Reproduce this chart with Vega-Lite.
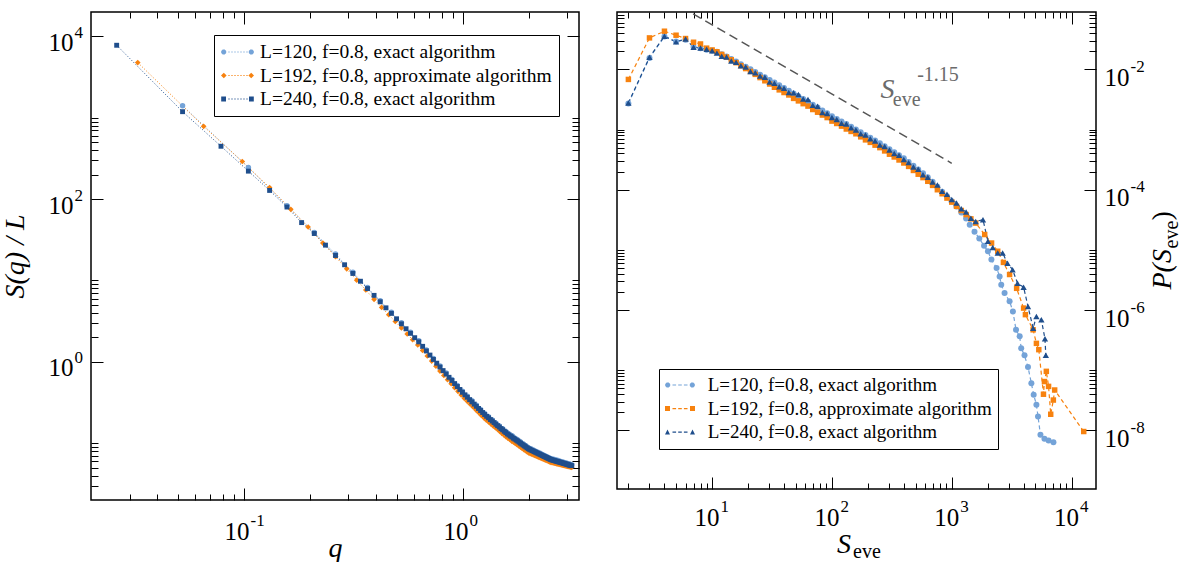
{
  "$schema": "https://vega.github.io/schema/vega-lite/v6.json",
  "background": "white",
  "padding": {"left": 0, "top": 10, "right": 0, "bottom": 0},
  "spacing": 34,
  "resolve": {"scale": {"fill": "independent", "shape": "independent"}, "legend": {"fill": "independent", "shape": "independent"}},
  "config": {
    "view": {"stroke": "#000", "strokeWidth": 1.5},
    "axis": {"grid": false, "domain": false, "tickColor": "#000", "tickWidth": 1, "labelFont": "Liberation Serif", "labelFontSize": 25, "labelColor": "#000", "titleFont": "Liberation Serif", "titleFontSize": 28, "titleFontStyle": "italic", "titleFontWeight": "normal", "titleColor": "#000", "labelFlush": false, "labelOverlap": false},
    "legend": {"labelFont": "Liberation Serif", "labelFontSize": 19, "labelColor": "#000", "labelLimit": 400, "symbolStrokeWidth": 0, "strokeColor": "#000", "fillColor": "#fff", "symbolSize": 400}
  },
  "datasets": {
    "sq": [
      {"s":"L120","q":0.0524,"v":1409},{"s":"L120","q":0.1047,"v":245},{"s":"L120","q":0.1571,"v":83},{"s":"L120","q":0.2094,"v":39},{"s":"L120","q":0.2618,"v":21.1},{"s":"L120","q":0.3142,"v":12.6},{"s":"L120","q":0.3665,"v":8.2},{"s":"L120","q":0.4189,"v":5.63},{"s":"L120","q":0.4712,"v":4.06},{"s":"L120","q":0.5236,"v":3.02},
      {"s":"L120","q":0.576,"v":2.31},{"s":"L120","q":0.6283,"v":1.81},{"s":"L120","q":0.6807,"v":1.4},{"s":"L120","q":0.733,"v":1.1},{"s":"L120","q":0.7854,"v":0.889},{"s":"L120","q":0.8378,"v":0.729},{"s":"L120","q":0.8901,"v":0.608},{"s":"L120","q":0.9425,"v":0.512},{"s":"L120","q":0.9948,"v":0.435},{"s":"L120","q":1.0472,"v":0.378},
      {"s":"L120","q":1.0996,"v":0.332},{"s":"L120","q":1.1519,"v":0.293},{"s":"L120","q":1.2043,"v":0.26},{"s":"L120","q":1.2566,"v":0.232},{"s":"L120","q":1.309,"v":0.211},{"s":"L120","q":1.3614,"v":0.193},{"s":"L120","q":1.4137,"v":0.176},{"s":"L120","q":1.4661,"v":0.163},{"s":"L120","q":1.5184,"v":0.15},{"s":"L120","q":1.5708,"v":0.139},
      {"s":"L120","q":1.6232,"v":0.13},{"s":"L120","q":1.6755,"v":0.123},{"s":"L120","q":1.7279,"v":0.115},{"s":"L120","q":1.7802,"v":0.109},{"s":"L120","q":1.8326,"v":0.103},{"s":"L120","q":1.885,"v":0.0976},{"s":"L120","q":1.9373,"v":0.0927},{"s":"L120","q":1.9897,"v":0.0881},{"s":"L120","q":2.042,"v":0.0851},{"s":"L120","q":2.0944,"v":0.0823},
      {"s":"L120","q":2.1468,"v":0.0797},{"s":"L120","q":2.1991,"v":0.0773},{"s":"L120","q":2.2515,"v":0.075},{"s":"L120","q":2.3038,"v":0.0727},{"s":"L120","q":2.3562,"v":0.0707},{"s":"L120","q":2.4086,"v":0.0687},{"s":"L120","q":2.4609,"v":0.0667},{"s":"L120","q":2.5133,"v":0.065},{"s":"L120","q":2.5656,"v":0.0639},{"s":"L120","q":2.618,"v":0.0628},
      {"s":"L120","q":2.6704,"v":0.0619},{"s":"L120","q":2.7227,"v":0.061},{"s":"L120","q":2.7751,"v":0.06},{"s":"L120","q":2.8274,"v":0.0591},{"s":"L120","q":2.8798,"v":0.0583},{"s":"L120","q":2.9322,"v":0.0575},{"s":"L120","q":2.9845,"v":0.0567},{"s":"L120","q":3.0369,"v":0.0558},{"s":"L120","q":3.0892,"v":0.0551},{"s":"L120","q":3.1416,"v":0.0544},
      {"s":"L192","q":0.0327,"v":4780},{"s":"L192","q":0.0654,"v":785},{"s":"L192","q":0.0982,"v":290},{"s":"L192","q":0.1309,"v":139},{"s":"L192","q":0.1636,"v":75},{"s":"L192","q":0.1963,"v":45.5},{"s":"L192","q":0.2291,"v":28.8},{"s":"L192","q":0.2618,"v":19.6},{"s":"L192","q":0.2945,"v":13.9},{"s":"L192","q":0.3272,"v":10.1},
      {"s":"L192","q":0.36,"v":7.64},{"s":"L192","q":0.3927,"v":5.86},{"s":"L192","q":0.4254,"v":4.67},{"s":"L192","q":0.4581,"v":3.79},{"s":"L192","q":0.4909,"v":3.13},{"s":"L192","q":0.5236,"v":2.61},{"s":"L192","q":0.5563,"v":2.2},{"s":"L192","q":0.589,"v":1.87},{"s":"L192","q":0.6218,"v":1.61},{"s":"L192","q":0.6545,"v":1.38},
      {"s":"L192","q":0.6872,"v":1.18},{"s":"L192","q":0.7199,"v":1.02},{"s":"L192","q":0.7527,"v":0.881},{"s":"L192","q":0.7854,"v":0.769},{"s":"L192","q":0.8181,"v":0.678},{"s":"L192","q":0.8508,"v":0.603},{"s":"L192","q":0.8836,"v":0.537},{"s":"L192","q":0.9163,"v":0.481},{"s":"L192","q":0.949,"v":0.434},{"s":"L192","q":0.9817,"v":0.391},
      {"s":"L192","q":1.0145,"v":0.356},{"s":"L192","q":1.0472,"v":0.327},{"s":"L192","q":1.0799,"v":0.301},{"s":"L192","q":1.1126,"v":0.278},{"s":"L192","q":1.1454,"v":0.257},{"s":"L192","q":1.1781,"v":0.238},{"s":"L192","q":1.2108,"v":0.221},{"s":"L192","q":1.2435,"v":0.206},{"s":"L192","q":1.2763,"v":0.193},{"s":"L192","q":1.309,"v":0.182},
      {"s":"L192","q":1.3417,"v":0.172},{"s":"L192","q":1.3744,"v":0.163},{"s":"L192","q":1.4072,"v":0.155},{"s":"L192","q":1.4399,"v":0.147},{"s":"L192","q":1.4726,"v":0.139},{"s":"L192","q":1.5053,"v":0.132},{"s":"L192","q":1.5381,"v":0.126},{"s":"L192","q":1.5708,"v":0.12},{"s":"L192","q":1.6035,"v":0.115},{"s":"L192","q":1.6362,"v":0.111},
      {"s":"L192","q":1.669,"v":0.106},{"s":"L192","q":1.7017,"v":0.103},{"s":"L192","q":1.7344,"v":0.0989},{"s":"L192","q":1.7671,"v":0.0955},{"s":"L192","q":1.7999,"v":0.0923},{"s":"L192","q":1.8326,"v":0.0891},{"s":"L192","q":1.8653,"v":0.0862},{"s":"L192","q":1.898,"v":0.0834},{"s":"L192","q":1.9308,"v":0.0807},{"s":"L192","q":1.9635,"v":0.0782},
      {"s":"L192","q":1.9962,"v":0.0759},{"s":"L192","q":2.0289,"v":0.0744},{"s":"L192","q":2.0617,"v":0.073},{"s":"L192","q":2.0944,"v":0.0718},{"s":"L192","q":2.1271,"v":0.0705},{"s":"L192","q":2.1598,"v":0.0692},{"s":"L192","q":2.1926,"v":0.0681},{"s":"L192","q":2.2253,"v":0.0668},{"s":"L192","q":2.258,"v":0.0658},{"s":"L192","q":2.2907,"v":0.0647},
      {"s":"L192","q":2.3235,"v":0.0637},{"s":"L192","q":2.3562,"v":0.0627},{"s":"L192","q":2.3889,"v":0.0617},{"s":"L192","q":2.4216,"v":0.0608},{"s":"L192","q":2.4544,"v":0.0598},{"s":"L192","q":2.4871,"v":0.0589},{"s":"L192","q":2.5198,"v":0.0581},{"s":"L192","q":2.5525,"v":0.0575},{"s":"L192","q":2.5853,"v":0.0571},{"s":"L192","q":2.618,"v":0.0567},
      {"s":"L192","q":2.6507,"v":0.0562},{"s":"L192","q":2.6834,"v":0.0557},{"s":"L192","q":2.7162,"v":0.0553},{"s":"L192","q":2.7489,"v":0.0549},{"s":"L192","q":2.7816,"v":0.0545},{"s":"L192","q":2.8143,"v":0.0541},{"s":"L192","q":2.8471,"v":0.0536},{"s":"L192","q":2.8798,"v":0.0533},{"s":"L192","q":2.9125,"v":0.053},{"s":"L192","q":2.9452,"v":0.0525},
      {"s":"L192","q":2.978,"v":0.0521},{"s":"L192","q":3.0107,"v":0.0518},{"s":"L192","q":3.0434,"v":0.0514},{"s":"L192","q":3.0761,"v":0.0511},{"s":"L192","q":3.1089,"v":0.0507},{"s":"L192","q":3.1416,"v":0.0504},
      {"s":"L240","q":0.0262,"v":7800},{"s":"L240","q":0.0524,"v":1190},{"s":"L240","q":0.0785,"v":447},{"s":"L240","q":0.1047,"v":221},{"s":"L240","q":0.1309,"v":128},{"s":"L240","q":0.1571,"v":80},{"s":"L240","q":0.1833,"v":51.5},{"s":"L240","q":0.2094,"v":37.8},{"s":"L240","q":0.2356,"v":27.2},{"s":"L240","q":0.2618,"v":20.3},
      {"s":"L240","q":0.288,"v":15.6},{"s":"L240","q":0.3142,"v":12.2},{"s":"L240","q":0.3403,"v":9.79},{"s":"L240","q":0.3665,"v":7.95},{"s":"L240","q":0.3927,"v":6.56},{"s":"L240","q":0.4189,"v":5.47},{"s":"L240","q":0.4451,"v":4.61},{"s":"L240","q":0.4712,"v":3.94},{"s":"L240","q":0.4974,"v":3.38},{"s":"L240","q":0.5236,"v":2.93},
      {"s":"L240","q":0.5498,"v":2.55},{"s":"L240","q":0.576,"v":2.24},{"s":"L240","q":0.6021,"v":1.98},{"s":"L240","q":0.6283,"v":1.76},{"s":"L240","q":0.6545,"v":1.55},{"s":"L240","q":0.6807,"v":1.36},{"s":"L240","q":0.7069,"v":1.21},{"s":"L240","q":0.733,"v":1.07},{"s":"L240","q":0.7592,"v":0.962},{"s":"L240","q":0.7854,"v":0.863},
      {"s":"L240","q":0.8116,"v":0.78},{"s":"L240","q":0.8378,"v":0.708},{"s":"L240","q":0.8639,"v":0.645},{"s":"L240","q":0.8901,"v":0.59},{"s":"L240","q":0.9163,"v":0.54},{"s":"L240","q":0.9425,"v":0.497},{"s":"L240","q":0.9687,"v":0.457},{"s":"L240","q":0.9948,"v":0.422},{"s":"L240","q":1.021,"v":0.393},{"s":"L240","q":1.0472,"v":0.367},
      {"s":"L240","q":1.0734,"v":0.343},{"s":"L240","q":1.0996,"v":0.322},{"s":"L240","q":1.1257,"v":0.302},{"s":"L240","q":1.1519,"v":0.284},{"s":"L240","q":1.1781,"v":0.267},{"s":"L240","q":1.2043,"v":0.252},{"s":"L240","q":1.2305,"v":0.238},{"s":"L240","q":1.2566,"v":0.225},{"s":"L240","q":1.2828,"v":0.214},{"s":"L240","q":1.309,"v":0.205},
      {"s":"L240","q":1.3352,"v":0.195},{"s":"L240","q":1.3614,"v":0.187},{"s":"L240","q":1.3875,"v":0.179},{"s":"L240","q":1.4137,"v":0.171},{"s":"L240","q":1.4399,"v":0.164},{"s":"L240","q":1.4661,"v":0.158},{"s":"L240","q":1.4923,"v":0.151},{"s":"L240","q":1.5184,"v":0.146},{"s":"L240","q":1.5446,"v":0.14},{"s":"L240","q":1.5708,"v":0.135},
      {"s":"L240","q":1.597,"v":0.13},{"s":"L240","q":1.6232,"v":0.126},{"s":"L240","q":1.6493,"v":0.122},{"s":"L240","q":1.6755,"v":0.119},{"s":"L240","q":1.7017,"v":0.115},{"s":"L240","q":1.7279,"v":0.112},{"s":"L240","q":1.7541,"v":0.109},{"s":"L240","q":1.7802,"v":0.106},{"s":"L240","q":1.8064,"v":0.103},{"s":"L240","q":1.8326,"v":0.1},
      {"s":"L240","q":1.8588,"v":0.0973},{"s":"L240","q":1.885,"v":0.0948},{"s":"L240","q":1.9111,"v":0.0924},{"s":"L240","q":1.9373,"v":0.09},{"s":"L240","q":1.9635,"v":0.0877},{"s":"L240","q":1.9897,"v":0.0855},{"s":"L240","q":2.0159,"v":0.084},{"s":"L240","q":2.042,"v":0.0826},{"s":"L240","q":2.0682,"v":0.0812},{"s":"L240","q":2.0944,"v":0.0799},
      {"s":"L240","q":2.1206,"v":0.0786},{"s":"L240","q":2.1468,"v":0.0774},{"s":"L240","q":2.1729,"v":0.0762},{"s":"L240","q":2.1991,"v":0.075},{"s":"L240","q":2.2253,"v":0.0739},{"s":"L240","q":2.2515,"v":0.0728},{"s":"L240","q":2.2777,"v":0.0717},{"s":"L240","q":2.3038,"v":0.0706},{"s":"L240","q":2.33,"v":0.0695},{"s":"L240","q":2.3562,"v":0.0686},
      {"s":"L240","q":2.3824,"v":0.0676},{"s":"L240","q":2.4086,"v":0.0667},{"s":"L240","q":2.4347,"v":0.0657},{"s":"L240","q":2.4609,"v":0.0648},{"s":"L240","q":2.4871,"v":0.064},{"s":"L240","q":2.5133,"v":0.0631},{"s":"L240","q":2.5395,"v":0.0625},{"s":"L240","q":2.5656,"v":0.062},{"s":"L240","q":2.5918,"v":0.0615},{"s":"L240","q":2.618,"v":0.061},
      {"s":"L240","q":2.6442,"v":0.0605},{"s":"L240","q":2.6704,"v":0.0601},{"s":"L240","q":2.6965,"v":0.0596},{"s":"L240","q":2.7227,"v":0.0592},{"s":"L240","q":2.7489,"v":0.0587},{"s":"L240","q":2.7751,"v":0.0583},{"s":"L240","q":2.8013,"v":0.0578},{"s":"L240","q":2.8274,"v":0.0574},{"s":"L240","q":2.8536,"v":0.057},{"s":"L240","q":2.8798,"v":0.0566},
      {"s":"L240","q":2.906,"v":0.0562},{"s":"L240","q":2.9322,"v":0.0558},{"s":"L240","q":2.9583,"v":0.0554},{"s":"L240","q":2.9845,"v":0.055},{"s":"L240","q":3.0107,"v":0.0546},{"s":"L240","q":3.0369,"v":0.0542},{"s":"L240","q":3.0631,"v":0.0538},{"s":"L240","q":3.0892,"v":0.0535},{"s":"L240","q":3.1154,"v":0.0531},{"s":"L240","q":3.1416,"v":0.0528}
    ],
    "pe": [
      {"s":"L120","S":2,"P":0.0027},{"s":"L120","S":3,"P":0.0155},{"s":"L120","S":4,"P":0.035},{"s":"L120","S":5,"P":0.029},{"s":"L120","S":6,"P":0.031},{"s":"L120","S":7,"P":0.0235},{"s":"L120","S":8,"P":0.0225},{"s":"L120","S":9,"P":0.0212},{"s":"L120","S":10,"P":0.0203},
      {"s":"L120","S":10.96,"P":0.0196},{"s":"L120","S":12.02,"P":0.0178},{"s":"L120","S":13.18,"P":0.0163},{"s":"L120","S":14.45,"P":0.0148},{"s":"L120","S":15.85,"P":0.0135},{"s":"L120","S":17.38,"P":0.0122},{"s":"L120","S":19.05,"P":0.011},{"s":"L120","S":20.89,"P":0.00999},{"s":"L120","S":22.91,"P":0.00902},{"s":"L120","S":25.12,"P":0.00815},
      {"s":"L120","S":27.54,"P":0.00736},{"s":"L120","S":30.2,"P":0.00666},{"s":"L120","S":33.11,"P":0.00602},{"s":"L120","S":36.31,"P":0.00544},{"s":"L120","S":39.81,"P":0.00491},{"s":"L120","S":43.65,"P":0.00442},{"s":"L120","S":47.86,"P":0.00397},{"s":"L120","S":52.48,"P":0.00357},{"s":"L120","S":57.54,"P":0.00321},{"s":"L120","S":63.1,"P":0.00289},
      {"s":"L120","S":69.18,"P":0.00259},{"s":"L120","S":75.86,"P":0.00232},{"s":"L120","S":83.18,"P":0.00208},{"s":"L120","S":91.2,"P":0.00186},{"s":"L120","S":100,"P":0.00166},{"s":"L120","S":109.6,"P":0.0015},{"s":"L120","S":120.2,"P":0.00136},{"s":"L120","S":131.8,"P":0.00123},{"s":"L120","S":144.5,"P":0.00111},{"s":"L120","S":158.5,"P":0.001},
      {"s":"L120","S":173.8,"P":0.000902},{"s":"L120","S":190.5,"P":0.000812},{"s":"L120","S":208.9,"P":0.00073},{"s":"L120","S":229.1,"P":0.000656},{"s":"L120","S":251.2,"P":0.00059},{"s":"L120","S":275.4,"P":0.000526},{"s":"L120","S":302,"P":0.000469},{"s":"L120","S":331.1,"P":0.000418},{"s":"L120","S":363.1,"P":0.000373},{"s":"L120","S":398.1,"P":0.000332},
      {"s":"L120","S":436.5,"P":0.000288},{"s":"L120","S":478.6,"P":0.00025},{"s":"L120","S":524.8,"P":0.000216},{"s":"L120","S":575.4,"P":0.000188},{"s":"L120","S":631,"P":0.000161},{"s":"L120","S":691.8,"P":0.000135},{"s":"L120","S":758.6,"P":0.000112},{"s":"L120","S":831.8,"P":9.23e-5},{"s":"L120","S":912,"P":7.76e-5},{"s":"L120","S":1000,"P":6.46e-5},
      {"s":"L120","S":1096,"P":5.25e-5},{"s":"L120","S":1202,"P":4.17e-5},{"s":"L120","S":1318,"P":3.31e-5},{"s":"L120","S":1413,"P":2.63e-5},{"s":"L120","S":1549,"P":2.0e-5},{"s":"L120","S":1698,"P":1.55e-5},{"s":"L120","S":1862,"P":1.17e-5},{"s":"L120","S":2005,"P":9.5e-6},{"s":"L120","S":2143,"P":6.9e-6},{"s":"L120","S":2368,"P":5.0e-6},
      {"s":"L120","S":2510,"P":3.63e-6},{"s":"L120","S":2590,"P":2.63e-6},{"s":"L120","S":2760,"P":1.92e-6},{"s":"L120","S":3040,"P":1.4e-6},{"s":"L120","S":3240,"P":9.5e-7},{"s":"L120","S":3440,"P":4.7e-7},{"s":"L120","S":3690,"P":3.66e-7},{"s":"L120","S":3800,"P":2.33e-7},{"s":"L120","S":4050,"P":1.77e-7},{"s":"L120","S":4330,"P":1.13e-7},
      {"s":"L120","S":4620,"P":6.1e-8},{"s":"L120","S":4830,"P":3.93e-8},{"s":"L120","S":5090,"P":2.67e-8},{"s":"L120","S":5250,"P":1.71e-8},{"s":"L120","S":5500,"P":8.5e-9},{"s":"L120","S":5940,"P":7.3e-9},{"s":"L120","S":6430,"P":6.8e-9},{"s":"L120","S":7060,"P":6.4e-9},
      {"s":"L192","S":2,"P":0.0068},{"s":"L192","S":3,"P":0.0333},{"s":"L192","S":4,"P":0.043},{"s":"L192","S":5,"P":0.0369},{"s":"L192","S":6,"P":0.0325},{"s":"L192","S":7,"P":0.0282},{"s":"L192","S":8,"P":0.0264},{"s":"L192","S":9,"P":0.0225},{"s":"L192","S":10,"P":0.021},
      {"s":"L192","S":10.96,"P":0.0196},{"s":"L192","S":12.02,"P":0.0177},{"s":"L192","S":13.18,"P":0.016},{"s":"L192","S":14.45,"P":0.0144},{"s":"L192","S":15.85,"P":0.0129},{"s":"L192","S":17.38,"P":0.0115},{"s":"L192","S":19.05,"P":0.0103},{"s":"L192","S":20.89,"P":0.00922},{"s":"L192","S":22.91,"P":0.00825},{"s":"L192","S":25.12,"P":0.00729},
      {"s":"L192","S":27.54,"P":0.00645},{"s":"L192","S":30.2,"P":0.00571},{"s":"L192","S":33.11,"P":0.00504},{"s":"L192","S":36.31,"P":0.00456},{"s":"L192","S":39.81,"P":0.00412},{"s":"L192","S":43.65,"P":0.00375},{"s":"L192","S":47.86,"P":0.00329},{"s":"L192","S":52.48,"P":0.00299},{"s":"L192","S":57.54,"P":0.00269},{"s":"L192","S":63.1,"P":0.00245},
      {"s":"L192","S":69.18,"P":0.00215},{"s":"L192","S":75.86,"P":0.00194},{"s":"L192","S":83.18,"P":0.00174},{"s":"L192","S":91.2,"P":0.00158},{"s":"L192","S":100,"P":0.00138},{"s":"L192","S":109.6,"P":0.00126},{"s":"L192","S":120.2,"P":0.00114},{"s":"L192","S":131.8,"P":0.00102},{"s":"L192","S":144.5,"P":0.00093},{"s":"L192","S":158.5,"P":0.00085},
      {"s":"L192","S":173.8,"P":0.000756},{"s":"L192","S":190.5,"P":0.000673},{"s":"L192","S":208.9,"P":0.000612},{"s":"L192","S":229.1,"P":0.00055},{"s":"L192","S":251.2,"P":0.0005},{"s":"L192","S":275.4,"P":0.000441},{"s":"L192","S":302,"P":0.000389},{"s":"L192","S":331.1,"P":0.00035},{"s":"L192","S":363.1,"P":0.000312},{"s":"L192","S":398.1,"P":0.000278},
      {"s":"L192","S":436.5,"P":0.000244},{"s":"L192","S":478.6,"P":0.000209},{"s":"L192","S":524.8,"P":0.000181},{"s":"L192","S":575.4,"P":0.000159},{"s":"L192","S":631,"P":0.000138},{"s":"L192","S":691.8,"P":0.000118},{"s":"L192","S":758.6,"P":9.99e-5},{"s":"L192","S":831.8,"P":8.57e-5},{"s":"L192","S":912,"P":7.26e-5},{"s":"L192","S":1000,"P":6.22e-5},
      {"s":"L192","S":1096,"P":5.3e-5},{"s":"L192","S":1202,"P":4.52e-5},{"s":"L192","S":1318,"P":3.86e-5},{"s":"L192","S":1445,"P":3.28e-5},{"s":"L192","S":1585,"P":2.79e-5},{"s":"L192","S":1884,"P":1.8e-5},{"s":"L192","S":2150,"P":1.3e-5},{"s":"L192","S":2420,"P":9.5e-6},{"s":"L192","S":2700,"P":6.2e-6},{"s":"L192","S":3040,"P":3.9e-6},
      {"s":"L192","S":3480,"P":2.3e-6},{"s":"L192","S":3980,"P":1.08e-6},{"s":"L192","S":4120,"P":8.4e-7},{"s":"L192","S":4780,"P":4.7e-7},{"s":"L192","S":5090,"P":2.8e-7},{"s":"L192","S":5330,"P":2.2e-7},{"s":"L192","S":5830,"P":4.0e-8},{"s":"L192","S":5940,"P":6.5e-8},{"s":"L192","S":6160,"P":9.6e-8},{"s":"L192","S":6430,"P":5.4e-8},
      {"s":"L192","S":6700,"P":1.86e-8},{"s":"L192","S":7050,"P":3.2e-8},{"s":"L192","S":7230,"P":4.7e-8},{"s":"L192","S":12640,"P":9.6e-9},
      {"s":"L240","S":2,"P":0.00277},{"s":"L240","S":3,"P":0.0159},{"s":"L240","S":4,"P":0.0355},{"s":"L240","S":5,"P":0.0286},{"s":"L240","S":6,"P":0.032},{"s":"L240","S":7,"P":0.0233},{"s":"L240","S":8,"P":0.0227},{"s":"L240","S":9,"P":0.0215},{"s":"L240","S":10,"P":0.0204},
      {"s":"L240","S":10.96,"P":0.0186},{"s":"L240","S":12.02,"P":0.0165},{"s":"L240","S":13.18,"P":0.016},{"s":"L240","S":14.45,"P":0.0138},{"s":"L240","S":15.85,"P":0.0131},{"s":"L240","S":17.38,"P":0.0115},{"s":"L240","S":19.05,"P":0.0109},{"s":"L240","S":20.89,"P":0.00922},{"s":"L240","S":22.91,"P":0.00876},{"s":"L240","S":25.12,"P":0.00776},
      {"s":"L240","S":27.54,"P":0.00736},{"s":"L240","S":30.2,"P":0.00615},{"s":"L240","S":33.11,"P":0.0059},{"s":"L240","S":36.31,"P":0.00513},{"s":"L240","S":39.81,"P":0.00487},{"s":"L240","S":43.65,"P":0.00413},{"s":"L240","S":47.86,"P":0.00408},{"s":"L240","S":52.48,"P":0.00381},{"s":"L240","S":57.54,"P":0.00321},{"s":"L240","S":63.1,"P":0.00316},
      {"s":"L240","S":69.18,"P":0.00252},{"s":"L240","S":75.86,"P":0.00243},{"s":"L240","S":83.18,"P":0.00192},{"s":"L240","S":91.2,"P":0.00184},{"s":"L240","S":100,"P":0.00159},{"s":"L240","S":109.6,"P":0.00147},{"s":"L240","S":120.2,"P":0.00127},{"s":"L240","S":131.8,"P":0.00124},{"s":"L240","S":144.5,"P":0.00107},{"s":"L240","S":158.5,"P":0.000984},
      {"s":"L240","S":173.8,"P":0.00085},{"s":"L240","S":190.5,"P":0.000812},{"s":"L240","S":208.9,"P":0.000702},{"s":"L240","S":229.1,"P":0.000644},{"s":"L240","S":251.2,"P":0.000551},{"s":"L240","S":275.4,"P":0.000521},{"s":"L240","S":302,"P":0.000456},{"s":"L240","S":331.1,"P":0.000398},{"s":"L240","S":363.1,"P":0.000373},{"s":"L240","S":398.1,"P":0.000319},
      {"s":"L240","S":436.5,"P":0.000282},{"s":"L240","S":478.6,"P":0.000238},{"s":"L240","S":524.8,"P":0.000218},{"s":"L240","S":575.4,"P":0.000177},{"s":"L240","S":631,"P":0.000161},{"s":"L240","S":691.8,"P":0.000134},{"s":"L240","S":758.6,"P":0.00012},{"s":"L240","S":831.8,"P":9.42e-5},{"s":"L240","S":912,"P":8.38e-5},{"s":"L240","S":1000,"P":6.9e-5},
      {"s":"L240","S":1096,"P":6.04e-5},{"s":"L240","S":1202,"P":4.81e-5},{"s":"L240","S":1318,"P":4.26e-5},{"s":"L240","S":1445,"P":3.35e-5},{"s":"L240","S":1585,"P":2.97e-5},{"s":"L240","S":1823,"P":3.18e-5},{"s":"L240","S":2005,"P":1.39e-5},{"s":"L240","S":2200,"P":1.1e-5},{"s":"L240","S":2420,"P":8.9e-6},{"s":"L240","S":2660,"P":8.9e-6},
      {"s":"L240","S":2920,"P":6.0e-6},{"s":"L240","S":3220,"P":4.7e-6},{"s":"L240","S":3540,"P":2.8e-6},{"s":"L240","S":3980,"P":2.4e-6},{"s":"L240","S":4330,"P":1.15e-6},{"s":"L240","S":4780,"P":5.0e-7},{"s":"L240","S":5090,"P":7.85e-7},{"s":"L240","S":5600,"P":6.9e-7},{"s":"L240","S":6000,"P":3.34e-7},{"s":"L240","S":6100,"P":1.77e-7}
    ]
  },
  "hconcat": [
    {
      "width": 488,
      "height": 488,
      "resolve": {"axis": {"x": "independent", "y": "independent"}},
      "layer": [
        {
          "data": {"name": "sq"},
          "transform": [{"filter": "datum.s == 'L120'"}],
          "mark": {"type": "line", "strokeDash": [1, 2], "strokeWidth": 1, "color": "#74a3d8"},
          "encoding": {
            "x": {"field": "q", "type": "quantitative", "scale": {"type": "log", "domain": [0.02, 3.39], "nice": false},
                  "axis": {"orient": "bottom", "values": [0.1, 1], "tickSize": -12, "labelExpr": "'10'", "labelAlign": "right", "labelBaseline": "alphabetic", "labelOffset": 5, "labelPadding": 51,
                           "title": "q", "titleX": 244, "titleY": 56, "titleAlign": "center", "titleBaseline": "alphabetic"}},
            "y": {"field": "v", "type": "quantitative", "scale": {"type": "log", "domain": [0.02, 20000], "nice": false},
                  "axis": {"orient": "left", "values": [1, 100, 10000], "tickSize": -12, "labelExpr": "'10'", "labelAlign": "right", "labelBaseline": "alphabetic", "labelOffset": 14, "labelPadding": 30,
                           "title": "S(q) / L", "titleX": -68, "titleY": 244, "titleAngle": 270, "titleAlign": "center", "titleBaseline": "alphabetic"}}
          }
        },
        {
          "data": {"name": "sq"},
          "transform": [{"filter": "datum.s == 'L192'"}],
          "mark": {"type": "line", "strokeDash": [1, 2], "strokeWidth": 1, "color": "#f7820f"},
          "encoding": {
            "x": {"field": "q", "type": "quantitative", "scale": {"type": "log", "domain": [0.02, 3.39], "nice": false}, "axis": null},
            "y": {"field": "v", "type": "quantitative", "scale": {"type": "log", "domain": [0.02, 20000], "nice": false}, "axis": null}
          }
        },
        {
          "data": {"name": "sq"},
          "transform": [{"filter": "datum.s == 'L240'"}],
          "mark": {"type": "line", "strokeDash": [1, 2], "strokeWidth": 1, "color": "#1f4e8c"},
          "encoding": {
            "x": {"field": "q", "type": "quantitative", "scale": {"type": "log", "domain": [0.02, 3.39], "nice": false}, "axis": null},
            "y": {"field": "v", "type": "quantitative", "scale": {"type": "log", "domain": [0.02, 20000], "nice": false}, "axis": null}
          }
        },
        {
          "data": {"name": "sq"},
          "transform": [{"filter": "datum.s == 'L120'"}],
          "mark": {"type": "point", "shape": "circle", "filled": true, "size": 30, "opacity": 1, "color": "#74a3d8"},
          "encoding": {
            "x": {"field": "q", "type": "quantitative", "scale": {"type": "log", "domain": [0.02, 3.39], "nice": false}, "axis": null},
            "y": {"field": "v", "type": "quantitative", "scale": {"type": "log", "domain": [0.02, 20000], "nice": false}, "axis": null}
          }
        },
        {
          "data": {"name": "sq"},
          "transform": [{"filter": "datum.s == 'L192'"}],
          "mark": {"type": "point", "shape": "diamond", "filled": true, "size": 32, "opacity": 1, "color": "#f7820f"},
          "encoding": {
            "x": {"field": "q", "type": "quantitative", "scale": {"type": "log", "domain": [0.02, 3.39], "nice": false}, "axis": null},
            "y": {"field": "v", "type": "quantitative", "scale": {"type": "log", "domain": [0.02, 20000], "nice": false}, "axis": null}
          }
        },
        {
          "data": {"name": "sq"},
          "transform": [{"filter": "datum.s == 'L240'"}],
          "mark": {"type": "point", "shape": "square", "filled": true, "size": 24, "opacity": 1, "color": "#1f4e8c"},
          "encoding": {
            "x": {"field": "q", "type": "quantitative", "scale": {"type": "log", "domain": [0.02, 3.39], "nice": false}, "axis": null},
            "y": {"field": "v", "type": "quantitative", "scale": {"type": "log", "domain": [0.02, 20000], "nice": false}, "axis": null}
          }
        },
        {
          "data": {"values": [{"s": "L120", "q": 0.5, "v": 3000}, {"s": "L192", "q": 0.5, "v": 3000}, {"s": "L240", "q": 0.5, "v": 3000}]},
          "mark": {"type": "point", "filled": true, "size": 30, "opacity": 1},
          "encoding": {
            "x": {"field": "q", "type": "quantitative", "scale": {"type": "log", "domain": [0.02, 3.39], "nice": false}, "axis": null},
            "y": {"field": "v", "type": "quantitative", "scale": {"type": "log", "domain": [0.02, 20000], "nice": false}, "axis": null},
            "fill": {"field": "s", "type": "nominal", "scale": {"domain": ["L120", "L192", "L240"], "range": ["#74a3d8", "#f7820f", "#1f4e8c"]},
                     "legend": {"title": null, "orient": "none", "legendX": 123, "legendY": 23, "padding": 7, "rowPadding": 3.5, "labelOffset": 19, "symbolSize": 400, "labelFont": "Liberation Serif", "labelFontSize": 19.5,
                                "labelExpr": "datum.label == 'L120' ? 'L=120, f=0.8, exact algorithm' : datum.label == 'L192' ? 'L=192, f=0.8, approximate algorithm' : 'L=240, f=0.8, exact algorithm'"}},
            "shape": {"field": "s", "type": "nominal",
                      "scale": {"domain": ["L120", "L192", "L240"], "range": [
                        "M-0.48,0.1L-0.63,0.25L-0.83,0.25L-0.98,0.1L-0.98,-0.1L-0.83,-0.25L-0.63,-0.25L-0.48,-0.1ZM2.28,0.1L2.13,0.25L1.93,0.25L1.78,0.1L1.78,-0.1L1.93,-0.25L2.13,-0.25L2.28,-0.1ZM-0.26,-0.06h0.12v0.12h-0.12ZM0.04,-0.06h0.12v0.12h-0.12ZM0.34,-0.06h0.12v0.12h-0.12ZM0.64,-0.06h0.12v0.12h-0.12ZM0.94,-0.06h0.12v0.12h-0.12ZM1.24,-0.06h0.12v0.12h-0.12ZM1.54,-0.06h0.12v0.12h-0.12Z",
                        "M-1,0L-0.72,-0.28L-0.44,0L-0.72,0.28ZM1.74,0L2.02,-0.28L2.3,0L2.02,0.28ZM-0.26,-0.06h0.12v0.12h-0.12ZM0.04,-0.06h0.12v0.12h-0.12ZM0.34,-0.06h0.12v0.12h-0.12ZM0.64,-0.06h0.12v0.12h-0.12ZM0.94,-0.06h0.12v0.12h-0.12ZM1.24,-0.06h0.12v0.12h-0.12ZM1.54,-0.06h0.12v0.12h-0.12Z",
                        "M-0.98,-0.24h0.48v0.48h-0.48ZM1.8,-0.24h0.48v0.48h-0.48ZM-0.26,-0.06h0.12v0.12h-0.12ZM0.04,-0.06h0.12v0.12h-0.12ZM0.34,-0.06h0.12v0.12h-0.12ZM0.64,-0.06h0.12v0.12h-0.12ZM0.94,-0.06h0.12v0.12h-0.12ZM1.24,-0.06h0.12v0.12h-0.12ZM1.54,-0.06h0.12v0.12h-0.12Z"]},
                      "legend": {"title": null, "orient": "none", "legendX": 123, "legendY": 23, "padding": 7, "rowPadding": 3.5, "labelOffset": 19, "symbolSize": 400, "labelFont": "Liberation Serif", "labelFontSize": 19.5,
                                 "labelExpr": "datum.label == 'L120' ? 'L=120, f=0.8, exact algorithm' : datum.label == 'L192' ? 'L=192, f=0.8, approximate algorithm' : 'L=240, f=0.8, exact algorithm'"}}
          }
        },
        {
          "data": {"values": [{"q": 1, "v": 1}]},
          "mark": {"type": "point", "size": 0, "opacity": 0},
          "encoding": {
            "x": {"field": "q", "type": "quantitative", "scale": {"type": "log", "domain": [0.02, 3.39], "nice": false},
                  "axis": {"orient": "bottom", "values": [0.03,0.04,0.05,0.06,0.07,0.08,0.09,0.2,0.3,0.4,0.5,0.6,0.7,0.8,0.9,2,3], "tickSize": -6, "labels": false, "title": null}},
            "y": {"field": "v", "type": "quantitative", "scale": {"type": "log", "domain": [0.02, 20000], "nice": false},
                  "axis": {"orient": "left", "values": [0.03,0.04,0.05,0.06,0.07,0.08,0.09,0.1,2,3,4,5,6,7,8,9,10,200,300,400,500,600,700,800,900,1000], "tickSize": -7, "labels": false, "title": null}}
          }
        },
        {
          "data": {"values": [{"q": 1, "v": 1}]},
          "mark": {"type": "point", "size": 0, "opacity": 0},
          "encoding": {
            "x": {"field": "q", "type": "quantitative", "scale": {"type": "log", "domain": [0.02, 3.39], "nice": false},
                  "axis": {"orient": "top", "values": [0.1, 1], "tickSize": -12, "labels": false, "title": null}},
            "y": {"field": "v", "type": "quantitative", "scale": {"type": "log", "domain": [0.02, 20000], "nice": false},
                  "axis": {"orient": "right", "values": [1, 100, 10000], "tickSize": -12, "labels": false, "title": null}}
          }
        },
        {
          "data": {"values": [{"q": 1, "v": 1}]},
          "mark": {"type": "point", "size": 0, "opacity": 0},
          "encoding": {
            "x": {"field": "q", "type": "quantitative", "scale": {"type": "log", "domain": [0.02, 3.39], "nice": false},
                  "axis": {"orient": "top", "values": [0.03,0.04,0.05,0.06,0.07,0.08,0.09,0.2,0.3,0.4,0.5,0.6,0.7,0.8,0.9,2,3], "tickSize": -6, "labels": false, "title": null}},
            "y": {"field": "v", "type": "quantitative", "scale": {"type": "log", "domain": [0.02, 20000], "nice": false},
                  "axis": {"orient": "right", "values": [0.03,0.04,0.05,0.06,0.07,0.08,0.09,0.1,2,3,4,5,6,7,8,9,10,200,300,400,500,600,700,800,900,1000], "tickSize": -7, "labels": false, "title": null}}
          }
        },
        {
          "data": {"values": [{"q": 1, "v": 1}]},
          "mark": {"type": "point", "size": 0, "opacity": 0},
          "encoding": {
            "x": {"field": "q", "type": "quantitative", "scale": {"type": "log", "domain": [0.02, 3.39], "nice": false},
                  "axis": {"orient": "bottom", "values": [0.1, 1], "tickSize": 0, "tickOpacity": 0, "labelExpr": "(datum.value < 1 ? '-' : '') + round(abs(log(datum.value)/LN10))", "labelFontSize": 17, "labelAlign": "left", "labelBaseline": "alphabetic", "labelOffset": 6, "labelPadding": 25, "title": null}},
            "y": {"field": "v", "type": "quantitative", "scale": {"type": "log", "domain": [0.02, 20000], "nice": false},
                  "axis": {"orient": "left", "values": [1, 100, 10000], "tickSize": 0, "tickOpacity": 0, "labelExpr": "(datum.value < 1 ? '-' : '') + round(abs(log(datum.value)/LN10))", "labelFontSize": 17, "labelAlign": "left", "labelBaseline": "alphabetic", "labelOffset": 1, "labelPadding": 17, "title": null}}
          }
        }
      ]
    },
    {
      "width": 479,
      "height": 477,
      "resolve": {"axis": {"x": "independent", "y": "independent"}},
      "layer": [
        {
          "data": {"values": [{"S": 5.5, "P": 0.109}, {"S": 1000, "P": 0.000275}]},
          "mark": {"type": "line", "clip": true, "color": "#555555", "strokeDash": [9, 5], "strokeWidth": 1.5},
          "encoding": {
            "x": {"field": "S", "type": "quantitative", "scale": {"type": "log", "domain": [1.607, 16000], "nice": false},
                  "axis": {"orient": "bottom", "values": [10, 100, 1000, 10000], "tickSize": -12, "labelExpr": "'10'", "labelAlign": "right", "labelBaseline": "alphabetic", "labelOffset": 7, "labelPadding": 48.5,
                           "title": "S", "titleX": 226.5, "titleY": 63.5, "titleAlign": "center", "titleBaseline": "alphabetic"}},
            "y": {"field": "P", "type": "quantitative", "scale": {"type": "log", "domain": [1.065e-9, 0.0897], "nice": false},
                  "axis": {"orient": "right", "values": [1e-8, 1e-6, 1e-4, 1e-2], "tickSize": -12, "labelExpr": "'10'", "labelAlign": "left", "labelBaseline": "alphabetic", "labelOffset": 16, "labelPadding": 20,
                           "title": "P(S", "titleX": 74.5, "titleY": 277, "titleAngle": 270, "titleAlign": "left", "titleBaseline": "alphabetic"}}
          }
        },
        {
          "data": {"name": "pe"},
          "transform": [{"filter": "datum.s == 'L120'"}],
          "mark": {"type": "line", "strokeDash": [4, 3], "strokeWidth": 1.2, "color": "#74a3d8"},
          "encoding": {
            "x": {"field": "S", "type": "quantitative", "scale": {"type": "log", "domain": [1.607, 16000], "nice": false}, "axis": null},
            "y": {"field": "P", "type": "quantitative", "scale": {"type": "log", "domain": [1.065e-9, 0.0897], "nice": false}, "axis": null}
          }
        },
        {
          "data": {"name": "pe"},
          "transform": [{"filter": "datum.s == 'L192'"}],
          "mark": {"type": "line", "strokeDash": [4, 3], "strokeWidth": 1.2, "color": "#f7820f"},
          "encoding": {
            "x": {"field": "S", "type": "quantitative", "scale": {"type": "log", "domain": [1.607, 16000], "nice": false}, "axis": null},
            "y": {"field": "P", "type": "quantitative", "scale": {"type": "log", "domain": [1.065e-9, 0.0897], "nice": false}, "axis": null}
          }
        },
        {
          "data": {"name": "pe"},
          "transform": [{"filter": "datum.s == 'L240'"}],
          "mark": {"type": "line", "strokeDash": [4, 3], "strokeWidth": 1.2, "color": "#1f4e8c"},
          "encoding": {
            "x": {"field": "S", "type": "quantitative", "scale": {"type": "log", "domain": [1.607, 16000], "nice": false}, "axis": null},
            "y": {"field": "P", "type": "quantitative", "scale": {"type": "log", "domain": [1.065e-9, 0.0897], "nice": false}, "axis": null}
          }
        },
        {
          "data": {"name": "pe"},
          "transform": [{"filter": "datum.s == 'L120'"}],
          "mark": {"type": "point", "shape": "circle", "filled": true, "size": 36, "opacity": 1, "color": "#74a3d8"},
          "encoding": {
            "x": {"field": "S", "type": "quantitative", "scale": {"type": "log", "domain": [1.607, 16000], "nice": false}, "axis": null},
            "y": {"field": "P", "type": "quantitative", "scale": {"type": "log", "domain": [1.065e-9, 0.0897], "nice": false}, "axis": null}
          }
        },
        {
          "data": {"name": "pe"},
          "transform": [{"filter": "datum.s == 'L192'"}],
          "mark": {"type": "point", "shape": "square", "filled": true, "size": 30, "opacity": 1, "color": "#f7820f"},
          "encoding": {
            "x": {"field": "S", "type": "quantitative", "scale": {"type": "log", "domain": [1.607, 16000], "nice": false}, "axis": null},
            "y": {"field": "P", "type": "quantitative", "scale": {"type": "log", "domain": [1.065e-9, 0.0897], "nice": false}, "axis": null}
          }
        },
        {
          "data": {"name": "pe"},
          "transform": [{"filter": "datum.s == 'L240'"}],
          "mark": {"type": "point", "shape": "triangle-up", "filled": true, "size": 40, "opacity": 1, "color": "#1f4e8c"},
          "encoding": {
            "x": {"field": "S", "type": "quantitative", "scale": {"type": "log", "domain": [1.607, 16000], "nice": false}, "axis": null},
            "y": {"field": "P", "type": "quantitative", "scale": {"type": "log", "domain": [1.065e-9, 0.0897], "nice": false}, "axis": null}
          }
        },
        {
          "data": {"values": [{"s": "L120", "S": 50, "P": 2.5e-8}, {"s": "L192", "S": 50, "P": 2.5e-8}, {"s": "L240", "S": 50, "P": 2.5e-8}]},
          "mark": {"type": "point", "filled": true, "size": 30, "opacity": 1},
          "encoding": {
            "x": {"field": "S", "type": "quantitative", "scale": {"type": "log", "domain": [1.607, 16000], "nice": false}, "axis": null},
            "y": {"field": "P", "type": "quantitative", "scale": {"type": "log", "domain": [1.065e-9, 0.0897], "nice": false}, "axis": null},
            "fill": {"field": "s", "type": "nominal", "scale": {"domain": ["L120", "L192", "L240"], "range": ["#74a3d8", "#f7820f", "#1f4e8c"]},
                     "legend": {"title": null, "orient": "none", "legendX": 42, "legendY": 357, "padding": 6, "rowPadding": 3.6, "labelOffset": 22.7, "symbolSize": 400, "labelFont": "Liberation Serif", "labelFontSize": 19,
                                "labelExpr": "datum.label == 'L120' ? 'L=120, f=0.8, exact algorithm' : datum.label == 'L192' ? 'L=192, f=0.8, approximate algorithm' : 'L=240, f=0.8, exact algorithm'"}},
            "shape": {"field": "s", "type": "nominal",
                      "scale": {"domain": ["L120", "L192", "L240"], "range": [
                        "M-0.48,0.1L-0.63,0.25L-0.83,0.25L-0.98,0.1L-0.98,-0.1L-0.83,-0.25L-0.63,-0.25L-0.48,-0.1ZM1.98,0.1L1.83,0.25L1.63,0.25L1.48,0.1L1.48,-0.1L1.63,-0.25L1.83,-0.25L1.98,-0.1ZM-0.25,-0.06h0.36v0.12h-0.36ZM0.32,-0.06h0.36v0.12h-0.36ZM0.89,-0.06h0.36v0.12h-0.36Z",
                        "M-1,-0.25h0.5v0.5h-0.5ZM1.5,-0.25h0.5v0.5h-0.5ZM-0.25,-0.06h0.36v0.12h-0.36ZM0.32,-0.06h0.36v0.12h-0.36ZM0.89,-0.06h0.36v0.12h-0.36Z",
                        "M-1,0.22L-0.75,-0.26L-0.5,0.22ZM1.5,0.22L1.75,-0.26L2,0.22ZM-0.25,-0.06h0.36v0.12h-0.36ZM0.32,-0.06h0.36v0.12h-0.36ZM0.89,-0.06h0.36v0.12h-0.36Z"]},
                      "legend": {"title": null, "orient": "none", "legendX": 42, "legendY": 357, "padding": 6, "rowPadding": 3.6, "labelOffset": 22.7, "symbolSize": 400, "labelFont": "Liberation Serif", "labelFontSize": 19,
                                 "labelExpr": "datum.label == 'L120' ? 'L=120, f=0.8, exact algorithm' : datum.label == 'L192' ? 'L=192, f=0.8, approximate algorithm' : 'L=240, f=0.8, exact algorithm'"}}
          }
        },
        {
          "data": {"values": [{"S": 10, "P": 0.001}]},
          "mark": {"type": "point", "size": 0, "opacity": 0},
          "encoding": {
            "x": {"field": "S", "type": "quantitative", "scale": {"type": "log", "domain": [1.607, 16000], "nice": false},
                  "axis": {"orient": "bottom", "values": [2,3,4,5,6,7,8,9,20,30,40,50,60,70,80,90,200,300,400,500,600,700,800,900,2000,3000,4000,5000,6000,7000,8000,9000], "tickSize": -6, "labels": false, "title": null}},
            "y": {"field": "P", "type": "quantitative", "scale": {"type": "log", "domain": [1.065e-9, 0.0897], "nice": false},
                  "axis": {"orient": "left", "values": [1e-8, 1e-6, 1e-4, 1e-2], "tickSize": -12, "labels": false, "title": null}}
          }
        },
        {
          "data": {"values": [{"S": 10, "P": 0.001}]},
          "mark": {"type": "point", "size": 0, "opacity": 0},
          "encoding": {
            "x": {"field": "S", "type": "quantitative", "scale": {"type": "log", "domain": [1.607, 16000], "nice": false},
                  "axis": {"orient": "top", "values": [10, 100, 1000, 10000], "tickSize": -12, "labels": false, "title": null}},
            "y": {"field": "P", "type": "quantitative", "scale": {"type": "log", "domain": [1.065e-9, 0.0897], "nice": false},
                  "axis": {"orient": "left", "values": [2e-8,3e-8,4e-8,5e-8,6e-8,7e-8,8e-8,9e-8,1e-7,2e-6,3e-6,4e-6,5e-6,6e-6,7e-6,8e-6,9e-6,1e-5,2e-4,3e-4,4e-4,5e-4,6e-4,7e-4,8e-4,9e-4,1e-3,0.02,0.03,0.04,0.05,0.06,0.07,0.08], "tickSize": -7, "labels": false, "title": null}}
          }
        },
        {
          "data": {"values": [{"S": 10, "P": 0.001}]},
          "mark": {"type": "point", "size": 0, "opacity": 0},
          "encoding": {
            "x": {"field": "S", "type": "quantitative", "scale": {"type": "log", "domain": [1.607, 16000], "nice": false},
                  "axis": {"orient": "top", "values": [2,3,4,5,6,7,8,9,20,30,40,50,60,70,80,90,200,300,400,500,600,700,800,900,2000,3000,4000,5000,6000,7000,8000,9000], "tickSize": -6, "labels": false, "title": null}},
            "y": {"field": "P", "type": "quantitative", "scale": {"type": "log", "domain": [1.065e-9, 0.0897], "nice": false},
                  "axis": {"orient": "right", "values": [2e-8,3e-8,4e-8,5e-8,6e-8,7e-8,8e-8,9e-8,1e-7,2e-6,3e-6,4e-6,5e-6,6e-6,7e-6,8e-6,9e-6,1e-5,2e-4,3e-4,4e-4,5e-4,6e-4,7e-4,8e-4,9e-4,1e-3,0.02,0.03,0.04,0.05,0.06,0.07,0.08], "tickSize": -7, "labels": false,
                           "title": ")", "titleX": 74.5, "titleY": 208, "titleAngle": 270, "titleAlign": "left", "titleBaseline": "alphabetic", "titleFontStyle": "normal"}}
          }
        },
        {
          "data": {"values": [{"S": 10, "P": 0.001}]},
          "mark": {"type": "point", "size": 0, "opacity": 0},
          "encoding": {
            "x": {"field": "S", "type": "quantitative", "scale": {"type": "log", "domain": [1.607, 16000], "nice": false},
                  "axis": {"orient": "bottom", "values": [10, 100, 1000, 10000], "tickSize": 0, "tickOpacity": 0, "labelExpr": "(datum.value < 1 ? '-' : '') + round(abs(log(datum.value)/LN10))", "labelFontSize": 17, "labelAlign": "left", "labelBaseline": "alphabetic", "labelOffset": 8, "labelPadding": 22,
                           "title": "eve", "titleX": 235.5, "titleY": 68, "titleAlign": "left", "titleBaseline": "alphabetic", "titleFontStyle": "normal", "titleFontSize": 20}},
            "y": {"field": "P", "type": "quantitative", "scale": {"type": "log", "domain": [1.065e-9, 0.0897], "nice": false},
                  "axis": {"orient": "right", "values": [1e-8, 1e-6, 1e-4, 1e-2], "tickSize": 0, "tickOpacity": 0, "labelExpr": "(datum.value < 1 ? '-' : '') + round(abs(log(datum.value)/LN10))", "labelFontSize": 17, "labelAlign": "left", "labelBaseline": "alphabetic", "labelOffset": 2, "labelPadding": 34,
                           "title": "eve", "titleX": 81, "titleY": 236, "titleAngle": 270, "titleAlign": "left", "titleBaseline": "alphabetic", "titleFontStyle": "normal", "titleFontSize": 20}}
          }
        },
        {
          "data": {"values": [{}]},
          "mark": {"type": "text", "text": "S", "font": "Liberation Serif", "fontSize": 28, "fontStyle": "italic", "color": "#6b6b6b", "align": "center", "baseline": "alphabetic"},
          "encoding": {
            "x": {"datum": 291, "type": "quantitative", "scale": {"type": "log", "domain": [1.607, 16000], "nice": false}, "axis": null},
            "y": {"datum": 0.00335, "type": "quantitative", "scale": {"type": "log", "domain": [1.065e-9, 0.0897], "nice": false}, "axis": null}
          }
        },
        {
          "data": {"values": [{}]},
          "mark": {"type": "text", "text": "eve", "font": "Liberation Serif", "fontSize": 20, "color": "#6b6b6b", "align": "left", "baseline": "alphabetic"},
          "encoding": {
            "x": {"datum": 322, "type": "quantitative", "scale": {"type": "log", "domain": [1.607, 16000], "nice": false}, "axis": null},
            "y": {"datum": 0.00244, "type": "quantitative", "scale": {"type": "log", "domain": [1.065e-9, 0.0897], "nice": false}, "axis": null}
          }
        },
        {
          "data": {"values": [{}]},
          "mark": {"type": "text", "text": "-1.15", "font": "Liberation Serif", "fontSize": 20, "color": "#6b6b6b", "align": "left", "baseline": "alphabetic"},
          "encoding": {
            "x": {"datum": 515, "type": "quantitative", "scale": {"type": "log", "domain": [1.607, 16000], "nice": false}, "axis": null},
            "y": {"datum": 0.00633, "type": "quantitative", "scale": {"type": "log", "domain": [1.065e-9, 0.0897], "nice": false}, "axis": null}
          }
        }
      ]
    }
  ]
}
